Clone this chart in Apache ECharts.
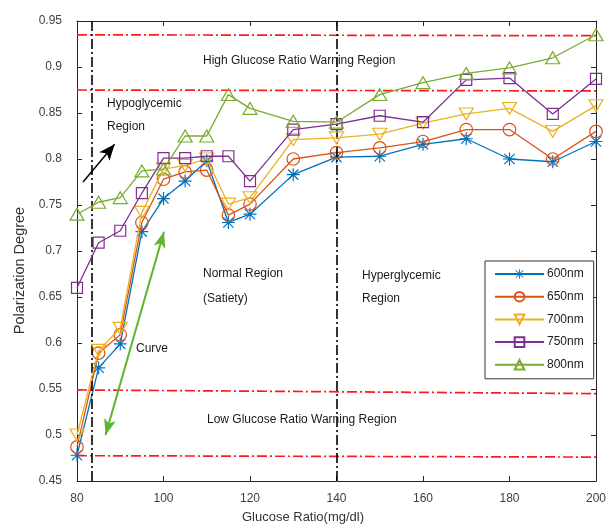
<!DOCTYPE html>
<html>
<head>
<meta charset="utf-8">
<script src="https://cdn.jsdelivr.net/npm/echarts@6/dist/echarts.min.js"></script>
<style>
  html, body { margin: 0; padding: 0; background: #fff; }
  #container { width: 609px; height: 529px; }
</style>
</head>
<body>
<div id="container"></div>
<script>
// glucose ratio (mg/dl)
var glucose = [80, 85, 90, 95, 100, 105, 110, 115, 120, 130, 140, 150, 160, 170, 180, 190, 200];
var seriesNames = ['600nm', '650nm', '700nm', '750nm', '800nm'];
var v600 = [0.478, 0.573, 0.599, 0.721, 0.757, 0.776, 0.798, 0.731, 0.740, 0.783, 0.802, 0.803, 0.816, 0.822, 0.800, 0.797, 0.819];
var v650 = [0.487, 0.589, 0.609, 0.731, 0.778, 0.786, 0.788, 0.739, 0.751, 0.800, 0.807, 0.812, 0.819, 0.832, 0.832, 0.800, 0.830];
var v700 = [0.500, 0.592, 0.616, 0.742, 0.789, 0.793, 0.800, 0.751, 0.758, 0.821, 0.823, 0.827, 0.839, 0.849, 0.855, 0.830, 0.858];
var v750 = [0.660, 0.709, 0.722, 0.763, 0.801, 0.801, 0.803, 0.803, 0.776, 0.832, 0.838, 0.847, 0.840, 0.886, 0.888, 0.849, 0.887];
var v800 = [0.740, 0.753, 0.758, 0.787, 0.789, 0.825, 0.825, 0.870, 0.855, 0.841, 0.840, 0.870, 0.883, 0.893, 0.899, 0.910, 0.935];
var yTicks = [0.45, 0.5, 0.55, 0.6, 0.65, 0.7, 0.75, 0.8, 0.85, 0.9, 0.95];
var xTicks = [80, 100, 120, 140, 160, 180, 200];

// region boundaries
var warnLines = [[0.935, 0.934], [0.875, 0.874], [0.549, 0.545], [0.4775, 0.476]];
var regionX = [83.4, 140.1];

var colors = ['#0072BD', '#D95319', '#EDB120', '#7E2F8E', '#77AC30'];
var asterisk = 'path://M9.1,0L10.9,0L10.9,20L9.1,20Z M0,9.1L20,9.1L20,10.9L0,10.9Z M2.8,1.5L18.5,17.2L17.2,18.5L1.5,2.8Z M17.2,1.5L18.5,2.8L2.8,18.5L1.5,17.2Z';
var downTri = 'path://M0,0L20,0L10,17Z';
var upTri = 'path://M10,0L20,17L0,17Z';

function pairs(vals) {
    return glucose.map(function (g, i) { return [g, vals[i]]; });
}

var dashDot = [10, 3, 2, 3];
var markData = [];
warnLines.forEach(function (w) {
    markData.push([{ coord: [80, w[0]] }, { coord: [200, w[1]] }]);
});
regionX.forEach(function (x) {
    markData.push([{ coord: [x, 0.45], lineStyle: { color: '#000', width: 1.6, type: dashDot } },
                   { coord: [x, 0.95] }]);
});

var allVals = [v600, v650, v700, v750, v800];
var symbols = [asterisk, 'circle', downTri, 'rect', upTri];
var sizes = [13, 12.5, 14, 11, 14];

var series = allVals.map(function (vals, i) {
    var s = {
        name: seriesNames[i],
        type: 'line',
        data: pairs(vals),
        symbol: symbols[i],
        symbolSize: i == 2 || i == 4 ? [sizes[i], sizes[i] * 0.85] : sizes[i],
        showAllSymbol: true,
        lineStyle: { color: colors[i], width: 1.3 },
        itemStyle: i == 0
            ? { color: colors[i], borderWidth: 0 }
            : { color: 'rgba(255,255,255,0)', borderColor: colors[i], borderWidth: 1.2 },
        z: 3 + i
    };
    return s;
});

// region lines and arrows, drawn in data coordinates
series.push({
    name: 'regions',
    type: 'line',
    data: [],
    markLine: {
        silent: true,
        symbol: ['none', 'none'],
        label: { show: false },
        lineStyle: { color: '#FF1A1A', width: 1.7, type: dashDot },
        data: markData
    }
});
series.push({
    name: 'arrows',
    type: 'line',
    data: [],
    markLine: {
        silent: true,
        label: { show: false },
        data: [
            [{ coord: [81.4, 0.775], symbol: 'none', lineStyle: { color: '#000', width: 1.5, type: 'solid' } },
             { coord: [88.7, 0.816], symbol: 'arrow', symbolSize: [10, 16] }],
            [{ coord: [86.6, 0.500], symbol: 'arrow', symbolSize: [9, 16], lineStyle: { color: '#5CB52E', width: 2, type: 'solid' } },
             { coord: [100.1, 0.721], symbol: 'arrow', symbolSize: [9, 16] }]
        ]
    }
});

var txt = { fill: '#1a1a1a', fontSize: 12, fontFamily: 'Liberation Sans, Arial, sans-serif' };
function label(x, y, s) {
    return { type: 'text', left: x, top: y, style: Object.assign({ text: s }, txt), z: 20 };
}

var dom = document.getElementById('container');
var myChart = echarts.init(dom);
var axisCol = '#262626';
var option = {
    animation: false,
    textStyle: { fontFamily: 'Liberation Sans, Arial, sans-serif' },
    grid: { left: 77, right: 7, top: 21, bottom: 45 },
    legend: {
        orient: 'vertical',
        left: 485,
        top: 261,
        data: seriesNames,
        itemWidth: 49,
        itemHeight: 12,
        itemGap: 10.7,
        padding: [7, 10, 8, 9],
        borderColor: '#333',
        borderWidth: 1,
        backgroundColor: '#fff',
        textStyle: { color: '#1a1a1a', fontSize: 12, padding: [0, 0, 0, -2] }
    },
    xAxis: [{
        type: 'value',
        min: 80, max: 200, interval: 20,
        name: 'Glucose Ratio(mg/dl)',
        nameLocation: 'middle',
        nameGap: 30,
        nameTextStyle: { color: '#333', fontSize: 13, padding: [0, 67, 0, 0] },
        axisLine: { lineStyle: { color: axisCol, width: 1 } },
        axisTick: { inside: true, length: 5, lineStyle: { color: axisCol } },
        axisLabel: { color: '#404040', fontSize: 12, margin: 12 },
        splitLine: { show: false }
    }, {
        type: 'value', position: 'top',
        min: 80, max: 200, interval: 20,
        axisLine: { show: true, lineStyle: { color: axisCol, width: 1 } },
        axisTick: { inside: true, length: 5, lineStyle: { color: axisCol } },
        axisLabel: { show: false },
        splitLine: { show: false }
    }],
    yAxis: [{
        type: 'value',
        min: yTicks[0], max: yTicks[yTicks.length - 1], interval: 0.05,
        name: 'Polarization Degree',
        nameLocation: 'middle',
        nameGap: 50,
        nameTextStyle: { color: '#333', fontSize: 14.5, padding: [0, 39, 0, 0] },
        axisLine: { show: true, lineStyle: { color: axisCol, width: 1 } },
        axisTick: { show: true, inside: true, length: 5, lineStyle: { color: axisCol } },
        axisLabel: { color: '#404040', fontSize: 12, margin: 15 },
        splitLine: { show: false }
    }, {
        type: 'value', position: 'right',
        min: yTicks[0], max: yTicks[yTicks.length - 1], interval: 0.05,
        axisLine: { show: true, lineStyle: { color: axisCol, width: 1 } },
        axisTick: { show: true, inside: true, length: 5, lineStyle: { color: axisCol } },
        axisLabel: { show: false },
        splitLine: { show: false }
    }],
    graphic: [
        label(203, 55, 'High Glucose Ratio Warning Region'),
        label(107, 98, 'Hypoglycemic'),
        label(107, 121, 'Region'),
        label(203, 268, 'Normal Region'),
        label(203, 293, '(Satiety)'),
        label(362, 270, 'Hyperglycemic'),
        label(362, 293, 'Region'),
        label(136, 343, 'Curve'),
        label(207, 414, 'Low Glucose Ratio Warning Region')
    ],
    series: series
};
myChart.setOption(option, true);
</script>
</body>
</html>
